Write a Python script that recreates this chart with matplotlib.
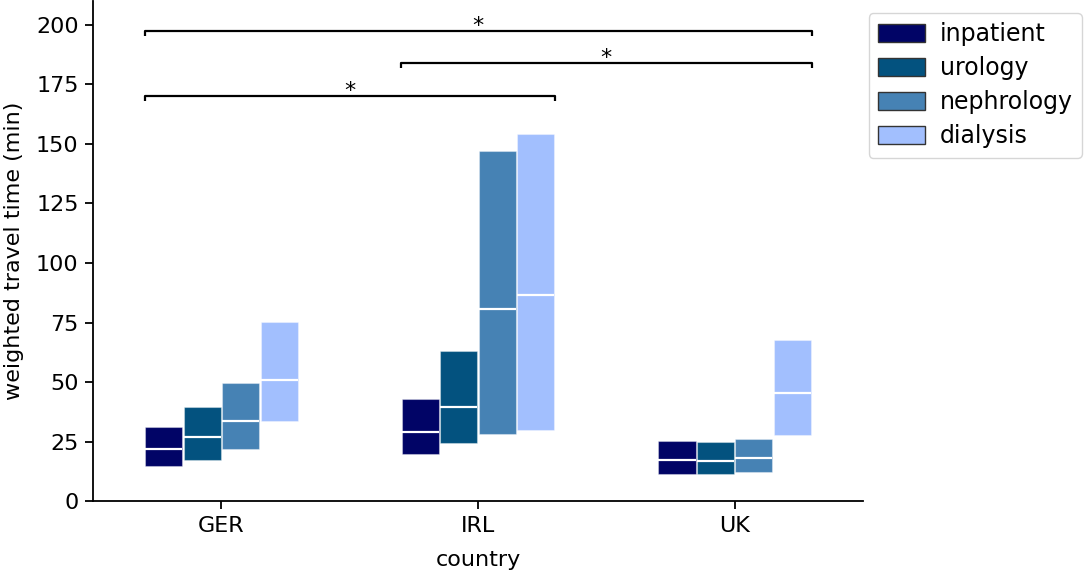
import numpy as np
import matplotlib
matplotlib.use("Agg")
import matplotlib.pyplot as plt
from matplotlib.patches import Patch

countries = ["GER", "IRL", "UK"]
services = ["inpatient", "urology", "nephrology", "dialysis"]
colors = ["#010466", "#03527f", "#4682b4", "#a2bffe"]

# lower quartile, median, upper quartile per service, per country
q1 = {
    "inpatient":  [14.9, 19.6, 11.4],
    "urology":    [17.3, 24.3, 11.4],
    "nephrology": [22.0, 28.2, 12.1],
    "dialysis":   [33.5, 29.9, 27.8],
}
med = {
    "inpatient":  [22.0, 29.2, 17.4],
    "urology":    [26.8, 39.7, 16.7],
    "nephrology": [33.8, 80.7, 18.2],
    "dialysis":   [50.9, 86.5, 45.5],
}
q3 = {
    "inpatient":  [31.0, 42.8, 25.3],
    "urology":    [39.4, 63.2, 24.7],
    "nephrology": [49.5, 147.1, 26.2],
    "dialysis":   [75.2, 154.1, 67.5],
}

# significance brackets: (from country idx, to country idx, height)
sig_from = [0, 1, 0]
sig_to = [2, 2, 1]
sig_y = [197.5, 184.0, 170.0]
sig_label = ["*", "*", "*"]

FS = 16
plt.rcParams["font.family"] = ["DejaVu Sans"]
plt.rcParams["font.size"] = FS

fig = plt.figure(figsize=(10.84, 5.72), dpi=100)
ax = fig.add_axes([0.086, 0.124, 0.71, 0.874])

bw = 0.15
x = np.arange(len(countries))
offsets = (np.arange(len(services)) - 1.5) * bw
for i, s in enumerate(services):
    lo = np.array(q1[s]); hi = np.array(q3[s]); md = np.array(med[s])
    ax.bar(x + offsets[i], hi - lo, bottom=lo, width=bw * 0.97,
           color=colors[i], edgecolor=(1, 1, 1, 0.35), linewidth=0.8, zorder=2)
    for xi, m in zip(x + offsets[i], md):
        ax.hlines(m, xi - bw * 0.97 / 2, xi + bw * 0.97 / 2, colors="white",
                  linewidth=1.6, zorder=3)

half = 2 * bw
for a, b, y, lab in zip(sig_from, sig_to, sig_y, sig_label):
    xa = x[a] - half
    xb = x[b] + half
    ax.plot([xa, xa, xb, xb], [y - 2, y, y, y - 2], color="black",
            linewidth=1.6, solid_capstyle="butt", zorder=4)
    ax.text((xa + xb) / 2, y - 2.0, lab, ha="center", va="bottom",
            fontsize=FS)

ax.set_xlim(-0.5, 2.5)
ax.set_ylim(0, 210)
ax.set_xticks(x)
ax.set_xticklabels(countries)
ax.set_yticks(np.arange(0, 201, 25))
ax.set_xlabel("country", fontsize=FS, labelpad=10)
ax.set_ylabel("weighted travel time (min)", fontsize=FS, labelpad=9)
ax.spines["top"].set_visible(False)
ax.spines["right"].set_visible(False)
for sp in ["left", "bottom"]:
    ax.spines[sp].set_linewidth(1.3)
ax.tick_params(axis="x", width=1.3, length=5.5, pad=5.5, labelsize=FS)
ax.tick_params(axis="y", width=1.3, length=5.5, pad=5.0, labelsize=FS)

handles = [Patch(facecolor=c, edgecolor="#333333", linewidth=1.0, label=s)
           for c, s in zip(colors, services)]
ax.legend(handles=handles, loc="upper left", bbox_to_anchor=(1.0, 0.988),
          fontsize=17, frameon=True, borderaxespad=0.25,
          labelspacing=0.42, handleheight=0.8, handlelength=2.0,
          handletextpad=0.6)

fig.savefig("out.png", dpi=100)
